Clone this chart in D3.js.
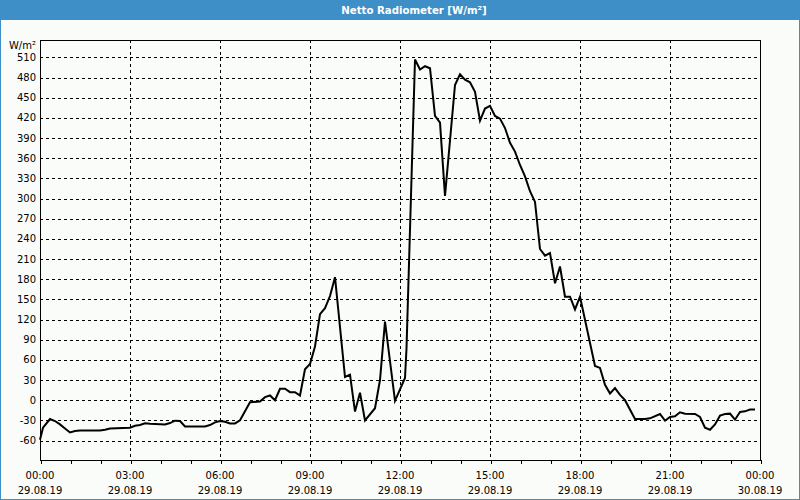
<!DOCTYPE html>
<html>
<head>
<meta charset="utf-8">
<script src="https://cdn.jsdelivr.net/npm/d3@7"></script>
<style>
  html, body { margin: 0; padding: 0; background: #fafcfa; }
  svg { display: block; }
  text { font-family: "DejaVu Sans", Verdana, sans-serif; }
</style>
</head>
<body>
<script>
// ---- data ----
const title = "Netto Radiometer [W/m²]";
const unitLabel = "W/m²";
const dayStart = "2019-08-29T00:00";
const dayEnd = "2019-08-30T00:00";
const yTicks = [-60, -30, 0, 30, 60, 90, 120, 150, 180, 210, 240, 270, 300, 330, 360, 390, 420, 450, 480, 510];
const xLabelHours = ["00:00", "03:00", "06:00", "09:00", "12:00", "15:00", "18:00", "21:00", "00:00"];
const xLabelDates = ["29.08.19", "29.08.19", "29.08.19", "29.08.19", "29.08.19", "29.08.19", "29.08.19", "29.08.19", "30.08.19"];

const times = [
  "00:00","00:06","00:20","00:30","00:40","00:50","01:00","01:10","01:20","02:00","02:10","02:20","03:00","03:10","03:20","03:30","03:40","04:10","04:20","04:30","04:40","04:50",
  "05:30","05:40","05:50","06:00","06:10","06:20","06:30","06:40","06:50","07:00","07:20","07:30","07:40","07:50","08:00","08:10","08:20","08:30","08:40","08:50",
  "09:00","09:10","09:20","09:30","09:40","09:50","10:10","10:20","10:30","10:40","10:50","11:10","11:20","11:30","11:50","12:10","12:13","12:30","12:40","12:50",
  "13:00","13:10","13:20","13:30","13:50","14:00","14:10","14:20","14:30","14:40","14:50","15:00","15:10","15:20","15:30","15:40","15:50","16:00","16:10","16:20",
  "16:30","16:40","16:50","17:00","17:10","17:20","17:30","17:40","17:50","18:00","18:30","18:40","18:50","19:00","19:10","19:20","19:30","19:50","20:10","20:20",
  "20:40","20:50","21:00","21:10","21:20","21:30","21:50","22:00","22:10","22:20","22:30","22:40","22:50","23:00","23:10","23:20","23:30","23:40","23:50"
];
const values = [
  -59,-41,-28,-31,-36,-42,-48,-46,-45,-45,-44,-42,-41,-38,-37,-34.5,-35,-36,-34,-30.5,-31,-39,
  -39,-37,-33,-31,-32,-34.5,-34.5,-30,-16.5,-3,-2,4.5,7,0,17,17,12,12,7,46,
  54,80,128,137,155,183,34.5,38,-17,11,-30,-12,30,117,-1,33,77,507,492,497,
  494,423,413,304,469,485,477,473,459,416,434,438,423,419,405,383,370,350,333,311,
  295,225,215,219,174,199,154,154,135,154,51,48,23,10,18,8,0,-28,-28,-27,
  -20.5,-30.5,-25,-24,-18,-20,-20.5,-25,-41,-44,-36,-23,-20.5,-20,-29,-17.5,-16.6,-14,-14
];

// ---- chart ----
const W = 800, H = 500;
const svg = d3.select("body").append("svg").attr("width", W).attr("height", H);

svg.append("rect").attr("x", 0).attr("y", 0).attr("width", W).attr("height", H).attr("fill", "#fafcfa");
svg.append("rect").attr("x", 0).attr("y", 0).attr("width", W).attr("height", 20).attr("fill", "#3e8fc7");
svg.append("rect").attr("x", 0.5).attr("y", 0.5).attr("width", W - 1).attr("height", H - 1)
  .attr("fill", "none").attr("stroke", "#3e8fc7").attr("stroke-width", 1);
svg.append("text").attr("x", 414).attr("y", 10).attr("dy", "0.35em").attr("text-anchor", "middle")
  .attr("fill", "#ffffff").attr("font-weight", "bold").attr("font-size", "10.2px").text(title);

const parse = d3.timeParse("%Y-%m-%dT%H:%M");
const t0 = parse(dayStart), t1 = parse(dayEnd);
const x = d3.scaleTime().domain([t0, t1]).range([40, 760]);
const y = d3.scaleLinear().domain([-89, 536]).range([460, 40]);

const data = times.map((t, i) => ({ t: parse("2019-08-29T" + t), v: values[i] }));

// grid
const grid = svg.append("g").attr("stroke", "#000").attr("stroke-width", 1).attr("stroke-dasharray", "3,3").attr("shape-rendering", "crispEdges");
grid.selectAll("line.h").data(yTicks).join("line").attr("class", "h")
  .attr("x1", 40).attr("x2", 760).attr("y1", d => Math.round(y(d)) + 0.5).attr("y2", d => Math.round(y(d)) + 0.5);
const gridTimes = d3.timeHour.every(3).range(d3.timeHour.offset(t0, 1), t1);
grid.selectAll("line.v").data(gridTimes).join("line").attr("class", "v")
  .attr("y1", 40).attr("y2", 460).attr("x1", d => Math.round(x(d)) + 0.5).attr("x2", d => Math.round(x(d)) + 0.5);

// y labels
svg.append("g").selectAll("text").data(yTicks).join("text")
  .attr("x", 36).attr("y", d => y(d)).attr("dy", "0.35em").attr("text-anchor", "end")
  .attr("font-size", "10px").attr("fill", "#000").text(d => d);
svg.append("text").attr("x", 36).attr("y", 45).attr("dy", "0.35em").attr("text-anchor", "end")
  .attr("font-size", "10px").attr("fill", "#000").text(unitLabel);

// x axis ticks
const xAxis = d3.axisBottom(x).ticks(d3.timeHour.every(1)).tickSize(4).tickFormat("");
const gx = svg.append("g").attr("transform", "translate(0.5,460)").attr("shape-rendering", "crispEdges").call(xAxis);
gx.select(".domain").remove();
gx.selectAll("line").attr("stroke", "#000");

const labelTimes = d3.timeHour.every(3).range(t0, d3.timeHour.offset(t1, 1));
const lab = svg.append("g").selectAll("text").data(labelTimes).join("text")
  .attr("text-anchor", "middle").attr("font-size", "10px").attr("fill", "#000");
lab.append("tspan").attr("x", d => x(d)).attr("y", 475).attr("dy", "0.35em").text((d, i) => xLabelHours[i]);
lab.append("tspan").attr("x", d => x(d)).attr("y", 490).attr("dy", "0.35em").text((d, i) => xLabelDates[i]);

// plot border
svg.append("rect").attr("x", 40.5).attr("y", 40.5).attr("width", 720).attr("height", 420)
  .attr("fill", "none").attr("stroke", "#000").attr("stroke-width", 1).attr("shape-rendering", "crispEdges");

// line
const line = d3.line().x(d => x(d.t)).y(d => y(d.v));
svg.append("path").datum(data).attr("d", line).attr("fill", "none")
  .attr("stroke", "#000").attr("stroke-width", 2).attr("stroke-linejoin", "miter");
</script>
</body>
</html>
